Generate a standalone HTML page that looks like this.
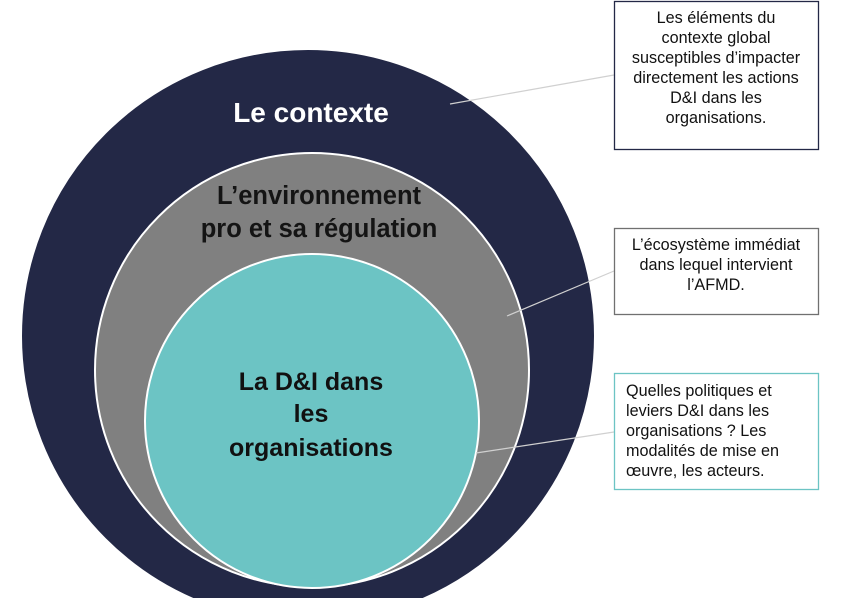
<!DOCTYPE html>
<html><head><meta charset="utf-8"><style>
html,body{margin:0;padding:0;background:#fff;}
svg{display:block;font-family:"Liberation Sans",sans-serif;}
</style></head><body>
<svg width="847" height="598" viewBox="0 0 847 598" xmlns="http://www.w3.org/2000/svg">
<circle cx="308" cy="336" r="287" fill="#232846" stroke="#fff" stroke-width="2"/>
<circle cx="312" cy="370" r="217" fill="#808080" stroke="#fff" stroke-width="2"/>
<circle cx="312" cy="421" r="167" fill="#6cc4c4" stroke="#fff" stroke-width="2"/>
<text x="311" y="122" text-anchor="middle" font-size="28" font-weight="bold" fill="#fff">Le contexte</text>
<text x="319" y="204" text-anchor="middle" font-size="25.5" font-weight="bold" fill="#141414">L’environnement</text>
<text x="319" y="237" text-anchor="middle" font-size="25.5" font-weight="bold" fill="#141414">pro et sa régulation</text>
<text x="311" y="390" text-anchor="middle" font-size="25" font-weight="bold" fill="#111">La D&amp;I dans</text>
<text x="311" y="422" text-anchor="middle" font-size="25" font-weight="bold" fill="#111">les</text>
<text x="311" y="456" text-anchor="middle" font-size="25" font-weight="bold" fill="#111">organisations</text>
<g stroke="#d0d0d0" stroke-width="1.2">
<line x1="450" y1="104" x2="614" y2="75"/>
<line x1="507" y1="316" x2="614" y2="271"/>
<line x1="476" y1="453" x2="614" y2="432"/>
</g>
<rect x="614.5" y="1.5" width="204" height="148" fill="#fff" stroke="#232846" stroke-width="1.3"/>
<rect x="614.5" y="228.5" width="204" height="86" fill="#fff" stroke="#707070" stroke-width="1.3"/>
<rect x="614.5" y="373.5" width="204" height="116" fill="#fff" stroke="#6cc4c4" stroke-width="1.3"/>
<g font-size="16.2" fill="#111" text-anchor="middle">
<text x="716" y="23">Les éléments du</text>
<text x="716" y="43">contexte global</text>
<text x="716" y="63">susceptibles d’impacter</text>
<text x="716" y="83">directement les actions</text>
<text x="716" y="103">D&amp;I dans les</text>
<text x="716" y="123">organisations.</text>
<text x="716" y="250">L’écosystème immédiat</text>
<text x="716" y="270">dans lequel intervient</text>
<text x="716" y="290">l’AFMD.</text>
</g>
<g font-size="16.2" fill="#111">
<text x="626" y="396">Quelles politiques et</text>
<text x="626" y="416">leviers D&amp;I dans les</text>
<text x="626" y="436">organisations ? Les</text>
<text x="626" y="456">modalités de mise en</text>
<text x="626" y="476">œuvre, les acteurs.</text>
</g>
</svg>
</body></html>
